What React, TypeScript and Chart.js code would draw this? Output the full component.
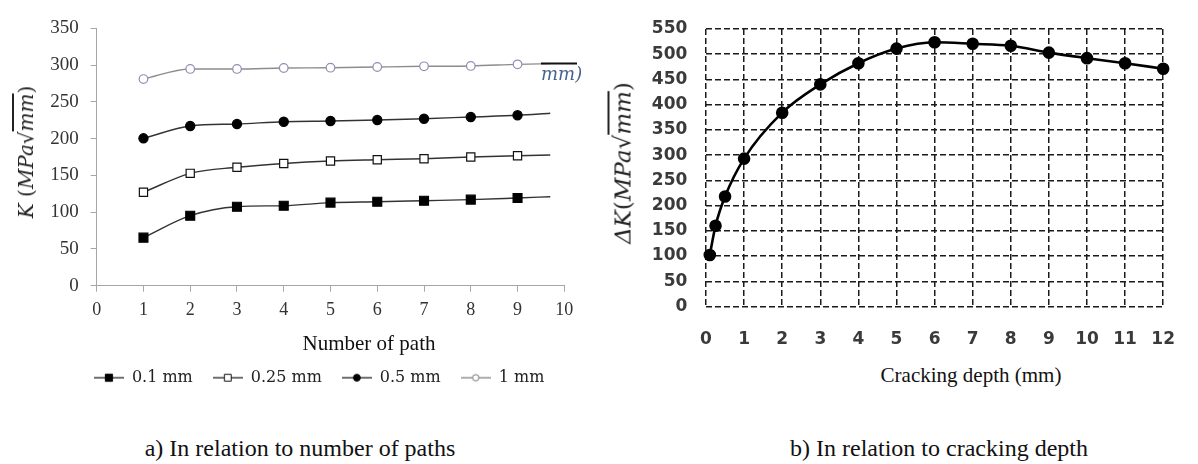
import React, { useEffect, useRef } from 'react';
import { Chart, registerables } from 'chart.js';

Chart.register(...registerables);

// ---------- Left chart data (K vs number of path) ----------
const pathNumbers = [1, 2, 3, 4, 5, 6, 7, 8, 9, 9.7];
const k01mm = [65.3, 95.2, 107.4, 108.8, 112.9, 114.2, 115.6, 117, 119.3, 121];
const k025mm = [127, 152.8, 161, 166.2, 169.6, 171.3, 172.7, 175, 176.8, 177.7];
const k05mm = [200.4, 217.2, 219.9, 223, 224, 225.3, 227, 229.4, 231.7, 234.4];
const k1mm = [281, 294.7, 294.7, 296, 296.4, 297.4, 298.3, 298.8, 301, 302];
const seriesLabels = ['0.1 mm', '0.25 mm', '0.5 mm', '1 mm'];
const pathTicks = [0, 1, 2, 3, 4, 5, 6, 7, 8, 9, 10];
const kTicks = [0, 50, 100, 150, 200, 250, 300, 350];

// ---------- Right chart data (ΔK vs cracking depth) ----------
const crackDepth = [0.1, 0.25, 0.5, 1, 2, 3, 4, 5, 6, 7, 8, 9, 10, 11, 12];
const deltaK = [102, 160, 218, 293, 384, 440, 482, 511, 523.5, 520.5, 516.5, 503, 492, 482, 471];
const depthTicks = [0, 1, 2, 3, 4, 5, 6, 7, 8, 9, 10, 11, 12];
const deltaKTicks = [0, 50, 100, 150, 200, 250, 300, 350, 400, 450, 500, 550];

const leftSeries = [k01mm, k025mm, k05mm, k1mm];

type Marker = { style: 'rect' | 'circle'; fill: string; stroke: string; r: number; line: string; lr: number };
const markers: Marker[] = [
  { style: 'rect', fill: '#000000', stroke: '#000000', r: 6.3, line: '#333333', lr: 3.6 },
  { style: 'rect', fill: '#ffffff', stroke: '#111111', r: 5.8, line: '#333333', lr: 3.4 },
  { style: 'circle', fill: '#000000', stroke: '#000000', r: 4.6, line: '#333333', lr: 3.4 },
  { style: 'circle', fill: '#ffffff', stroke: '#948cb4', r: 4.3, line: '#8c8c8c', lr: 3.2 },
];

function legendIcon(m: Marker): HTMLCanvasElement {
  const c = document.createElement('canvas');
  c.width = 30;
  c.height = 12;
  const g = c.getContext('2d')!;
  g.strokeStyle = m.line;
  g.lineWidth = 1.4;
  g.beginPath();
  g.moveTo(0, 6);
  g.lineTo(30, 6);
  g.stroke();
  g.fillStyle = m.fill;
  g.strokeStyle = m.style === 'circle' && m.fill === '#ffffff' ? '#777777' : m.stroke;
  g.lineWidth = 1;
  g.beginPath();
  if (m.style === 'rect') {
    g.rect(15 - m.lr, 6 - m.lr, m.lr * 2, m.lr * 2);
  } else {
    g.arc(15, 6, m.lr, 0, Math.PI * 2);
  }
  g.fill();
  g.stroke();
  return c;
}

const artifactPlugin = {
  id: 'artifactText',
  afterDatasetsDraw(chart: any) {
    const { ctx } = chart;
    ctx.save();
    ctx.strokeStyle = '#111111';
    ctx.lineWidth = 2;
    ctx.beginPath();
    ctx.moveTo(541, 63.5);
    ctx.lineTo(577, 63.5);
    ctx.stroke();
    ctx.font = 'italic 18px "DejaVu Serif"';
    ctx.fillStyle = '#46648c';
    ctx.textBaseline = 'alphabetic';
    ctx.fillText('mm)', 541, 80);
    ctx.restore();
  },
};

const serif = 'Liberation Serif';

export default function App() {
  const leftRef = useRef<HTMLCanvasElement>(null);
  const rightRef = useRef<HTMLCanvasElement>(null);

  useEffect(() => {
    const icons = markers.map(legendIcon);
    const left = new Chart(leftRef.current!, {
      type: 'line',
      data: {
        datasets: seriesLabels.map((label, i) => {
          const m = markers[i];
          return {
            label,
            data: pathNumbers.map((x, j) => ({ x, y: leftSeries[i][j] })),
            borderColor: m.line,
            borderWidth: 1.4,
            pointStyle: m.style,
            pointRadius: (c: any) => (c.dataIndex < pathNumbers.length - 1 ? m.r : 0),
            pointBackgroundColor: m.fill,
            pointBorderColor: m.stroke,
            pointBorderWidth: 1.2,
            cubicInterpolationMode: 'monotone',
            fill: false,
          } as any;
        }),
      },
      options: {
        animation: false,
        responsive: false,
        maintainAspectRatio: false,
        layout: { padding: { left: 40, right: 35.7, top: 28.3, bottom: 4.3 } },
        plugins: {
          tooltip: { enabled: false },
          legend: {
            position: 'bottom',
            align: 'end',
            labels: {
              usePointStyle: true,
              pointStyleWidth: 30,
              padding: 20,
              color: '#222222',
              font: { family: 'DejaVu Serif', size: 16 },
              generateLabels: (chart: any) => {
                const items = (Chart.defaults.plugins.legend.labels as any).generateLabels(chart);
                return items.map((it: any, i: number) => ({ ...it, pointStyle: icons[i], fontColor: '#222222' }));
              },
            },
          },
        },
        scales: {
          x: {
            type: 'linear',
            min: 0,
            max: 10,
            afterBuildTicks: (s: any) => {
              s.ticks = pathTicks.map((v) => ({ value: v }));
            },
            afterFit: (s: any) => {
              s.height = 64;
            },
            grid: { drawOnChartArea: false, drawTicks: true, tickLength: 6, color: '#a6a6a6', lineWidth: 1 },
            border: { color: '#a6a6a6', width: 1 },
            ticks: { font: { family: serif, size: 18 }, color: '#333333', padding: 8, maxRotation: 0 },
          },
          y: {
            type: 'linear',
            min: 0,
            max: 350,
            afterBuildTicks: (s: any) => {
              s.ticks = kTicks.map((v) => ({ value: v }));
            },
            afterFit: (s: any) => {
              s.width = 56.7;
            },
            grid: { drawOnChartArea: false, drawTicks: true, tickLength: 6, color: '#a6a6a6', lineWidth: 1 },
            border: { color: '#a6a6a6', width: 1 },
            ticks: { font: { family: serif, size: 19 }, color: '#333333', padding: 12 },
          },
        },
      } as any,
      plugins: [artifactPlugin],
    });

    const right = new Chart(rightRef.current!, {
      type: 'line',
      data: {
        datasets: [
          {
            label: 'ΔK',
            data: crackDepth.map((x, j) => ({ x, y: deltaK[j] })),
            borderColor: '#000000',
            borderWidth: 2.6,
            pointRadius: 5,
            pointBackgroundColor: '#000000',
            pointBorderColor: '#000000',
            cubicInterpolationMode: 'monotone',
            fill: false,
            clip: false,
          } as any,
        ],
      },
      options: {
        animation: false,
        responsive: false,
        maintainAspectRatio: false,
        layout: { padding: { left: 0, right: 20, top: 15, bottom: 0 } },
        plugins: { legend: { display: false }, tooltip: { enabled: false } },
        scales: {
          x: {
            type: 'linear',
            min: 0,
            max: 12,
            afterBuildTicks: (s: any) => {
              s.ticks = depthTicks.map((v) => ({ value: v }));
            },
            afterFit: (s: any) => {
              s.height = 53.5;
            },
            grid: { color: '#1a1a1a', lineWidth: 1.5, drawTicks: false, borderDash: [6, 3] },
            border: { display: false, dash: [6, 3] },
            ticks: { font: { family: 'DejaVu Sans', size: 17, weight: 'bold' }, color: '#3a3a3a', padding: 23, maxRotation: 0 },
          },
          y: {
            type: 'linear',
            min: 0,
            max: 550,
            afterBuildTicks: (s: any) => {
              s.ticks = deltaKTicks.map((v) => ({ value: v }));
            },
            afterFit: (s: any) => {
              s.width = 106;
            },
            grid: { color: '#1a1a1a', lineWidth: 1.5, drawTicks: false, borderDash: [6, 3] },
            border: { display: false, dash: [6, 3] },
            ticks: { font: { family: 'DejaVu Sans', size: 17, weight: 'bold' }, color: '#3a3a3a', padding: 18.7 },
          },
        },
      } as any,
    });

    return () => {
      left.destroy();
      right.destroy();
    };
  }, []);

  const abs = (x: number, y: number, size: number, extra: any = {}) => ({
    position: 'absolute' as const,
    left: x,
    top: y,
    transform: 'translate(-50%, -50%)',
    whiteSpace: 'nowrap' as const,
    fontFamily: '"Liberation Serif", serif',
    fontSize: size,
    color: '#111111',
    lineHeight: 1,
    ...extra,
  });

  const radicalTitle = (prefix: string, gap: boolean) => (
    <span>
      <i>{prefix}</i>
      {gap ? ' ' : ''}(<i>MPa</i>√<span style={{ textDecoration: 'overline' }}><i>mm</i></span>)
    </span>
  );

  return (
    <div style={{ position: 'fixed', left: 0, top: 0, width: 1198, height: 464, background: '#ffffff', overflow: 'hidden' }}>
      <canvas ref={leftRef} width={600} height={400} style={{ position: 'absolute', left: 0, top: 0, width: 600, height: 400 }} />
      <canvas ref={rightRef} width={598} height={360} style={{ position: 'absolute', left: 600, top: 0, width: 598, height: 360 }} />
      <div style={abs(26, 152, 20, { transform: 'translate(-50%, -50%) rotate(-90deg)', fontFamily: '"DejaVu Serif", serif', color: '#222222' })}>
        {radicalTitle('K', true)}
      </div>
      <div style={abs(623, 163, 23, { transform: 'translate(-50%, -50%) rotate(-90deg)', fontFamily: '"DejaVu Serif", serif', color: '#222222' })}>
        {radicalTitle('ΔK', false)}
      </div>
      <div style={abs(369, 343, 21)}>Number of path</div>
      <div style={abs(971, 375, 21)}>Cracking depth (mm)</div>
      <div style={abs(300, 448, 24)}>a) In relation to number of paths</div>
      <div style={abs(939, 448, 24)}>b) In relation to cracking depth</div>
    </div>
  );
}
